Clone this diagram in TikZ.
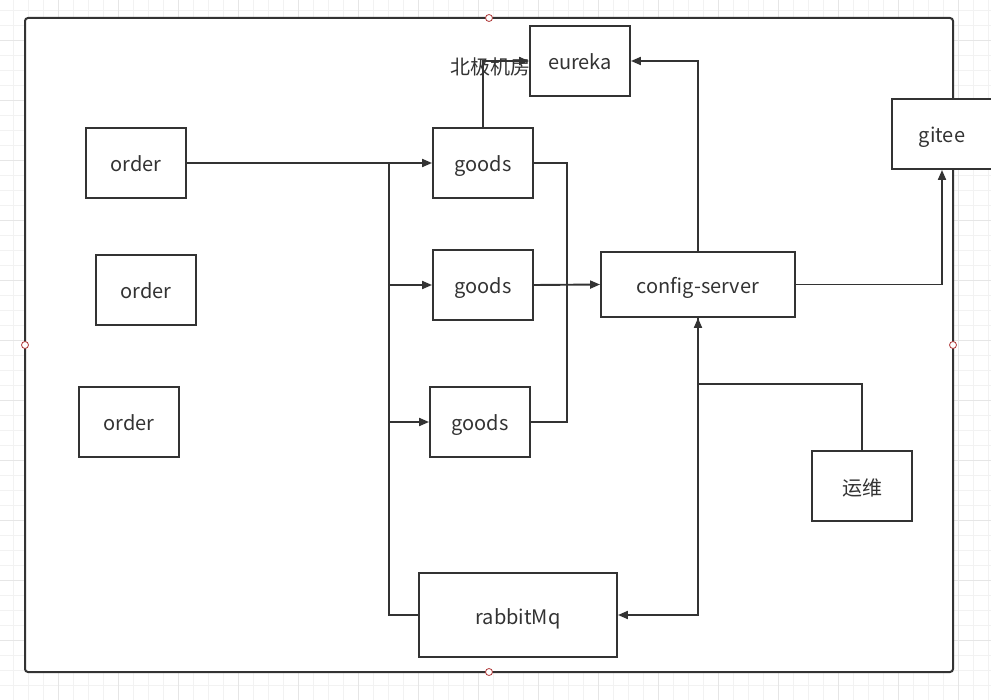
\documentclass[tikz,border=0pt]{standalone}
\usepackage{fontspec}
\setmainfont{Noto Sans CJK SC}
\usetikzlibrary{arrows.meta,positioning}
\definecolor{ink}{HTML}{333333}
\definecolor{gridthin}{HTML}{F2F2F2}
\definecolor{gridbold}{HTML}{E6E6E6}
\definecolor{handle}{HTML}{B03A3A}
\tikzset{
svc/.style={
  draw=ink,
  fill=white,
  line width=1.9pt,
  minimum width=100pt,
  minimum height=70pt,
  inner sep=0pt,
  text height=20pt,
  text depth=2pt,
  text=ink,
  font=\fontsize{20}{24}\selectfont
  },
wire/.style={draw=ink, line width=1.9pt},
link/.style={wire, -{Triangle[length=10pt,width=8pt]}}
}

\begin{document}
\begin{tikzpicture}[x=1pt,y=-1pt]
\useasboundingbox (0,0) rectangle (991,700);
\fill[white] (0,0) rectangle (991,700);
% background grid
\foreach \x in {13,28,...,988}
  \draw[gridthin] (\x,0) -- (\x,700);
\foreach \y in {10,25,...,700}
  \draw[gridthin] (0,\y) -- (991,\y);
\foreach \x in {58,118,...,958}
  \draw[gridbold] (\x,0) -- (\x,700);
\foreach \y in {40,100,...,640}
  \draw[gridbold] (0,\y) -- (991,\y);

% frame
\draw[ink, fill=white, line width=2pt, rounded corners=3pt]
  (25,18) rectangle (953,672);

\node[text=ink, font=\fontsize{20}{24}\selectfont, anchor=east, inner sep=0pt]
  (room) at (531,67) {北极机房};

\node[svc] (eureka) at (580,61) {eureka};
\node[svc] (order1) at (136,163) {order};
\node[svc] (order2) at (146,290) {order};
\node[svc] (order3) at (129,422) {order};
\node[svc] (goods1) at (483,163) {goods};
\node[svc] (goods2) at (483,285) {goods};
\node[svc] (goods3) at (480,422) {goods};
\node[svc, minimum width=194pt, minimum height=65pt]
  (config) at (698,284.5) {config-server};
\node[svc] (gitee) at (942,134) {gitee};
\node[svc] (ops) at (862,486) {运维};
\node[svc, minimum width=198pt, minimum height=84pt]
  (mq) at (518,615) {rabbitMq};

\coordinate (bustop) at (389,163);
\coordinate (join) at (567,285);
\coordinate (tap) at (698,384);

\begin{scope}
\draw[link] (order1.east) -- (goods1.west);
\draw[wire] (mq.west) -| (bustop);
\draw[link] (goods2.west -| bustop) -- (goods2.west);
\draw[link] (goods3.west -| bustop) -- (goods3.west);
\draw[link] (goods1.north) |- (eureka.west);
\draw[wire] (goods1.east) -| (join);
\draw[wire] (goods3.east) -| (join);
\draw[link] (goods2.east) -- (config.west);
\draw[link] (config.north) |- (eureka.east);
\draw[link] (config.east) -| (gitee.south);
\draw[link] (ops.north) |- (tap) -- (config.south);
\draw[link] (config.south) |- (mq.east);
\end{scope}

% selection handles
\foreach \p in {(489,18),(25,345),(953,345),(489,672)}
  \draw[handle, fill=white, line width=0.8pt] \p circle (3.5pt);
\end{tikzpicture}
\end{document}
